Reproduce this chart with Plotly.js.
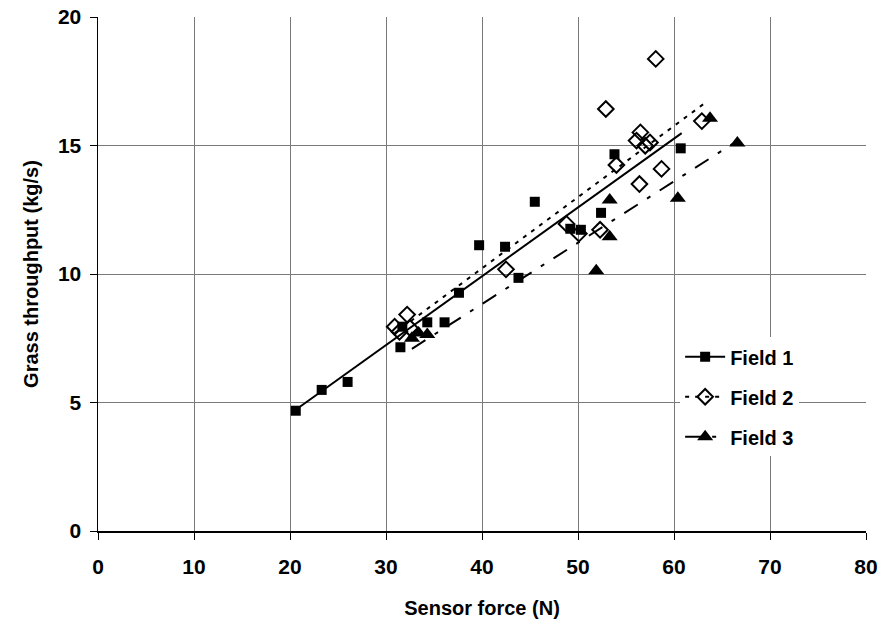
<!DOCTYPE html>
<html>
<head>
<meta charset="utf-8">
<script src="https://cdn.plot.ly/plotly-3.0.1.min.js"></script>
<style>html,body{margin:0;padding:0;background:#fff}#chart{width:881px;height:625px}</style>
</head>
<body>
<div id="chart"></div>
<script>
// Field 1 (filled squares)
const field1X = [20.6, 23.3, 26.0, 31.5, 31.7, 34.3, 36.1, 37.6, 39.7, 42.4, 43.8, 45.5, 49.2, 50.3, 52.4, 53.8, 60.7];
const field1Y = [4.68, 5.49, 5.80, 7.15, 7.95, 8.12, 8.12, 9.27, 11.12, 11.06, 9.85, 12.81, 11.76, 11.72, 12.38, 14.66, 14.89];
// Field 2 (open diamonds)
const field2X = [30.9, 31.4, 32.2, 32.5, 42.5, 48.8, 50.1, 52.3, 52.9, 54.0, 56.1, 56.4, 56.5, 57.0, 57.5, 58.1, 58.7, 62.9];
const field2Y = [7.95, 7.75, 8.42, 7.90, 10.18, 11.95, 11.57, 11.72, 16.42, 14.24, 15.19, 13.50, 15.51, 14.99, 15.12, 18.37, 14.09, 15.95];
// Field 3 (filled triangles)
const field3X = [32.7, 33.4, 34.3, 51.9, 53.3, 53.3, 60.4, 63.75, 66.6];
const field3Y = [7.50, 7.70, 7.65, 10.13, 11.45, 12.88, 12.95, 16.06, 15.10];
// Trend lines (end points)
const trend1X = [20.6, 60.8];
const trend1Y = [4.72, 15.48];
const trend2X = [30.9, 63.1];
const trend2Y = [7.70, 16.62];
const trend3X = [32.7, 66.6];
const trend3Y = [7.09, 15.18];
const seriesNames = ['Field 1', 'Field 2', 'Field 3'];
const xTicks = [0, 10, 20, 30, 40, 50, 60, 70, 80];
const yTicks = [0, 5, 10, 15, 20];

const FONT = "Arial, 'Liberation Sans', sans-serif";
const styles = [
  {line: {color: '#000', width: 2, dash: 'solid'}, marker: {symbol: 'square', size: 10, color: '#000'}},
  {line: {color: '#000', width: 2, dash: '4px,6px'}, marker: {symbol: 'diamond-open', size: 12, color: '#000', line: {width: 2, color: '#000'}}},
  {line: {color: '#000', width: 2, dash: '16px,11px,4px,11px'}, marker: {symbol: 'triangle-up', size: 14, color: '#000'}}
];
const pts = [[field1X, field1Y], [field2X, field2Y], [field3X, field3Y]];
const trends = [[trend1X, trend1Y], [trend2X, trend2Y], [trend3X, trend3Y]];

const traces = [];
for (let i = 0; i < 3; i++) {
  traces.push({x: trends[i][0], y: trends[i][1], mode: 'lines', line: styles[i].line, showlegend: false, hoverinfo: 'skip'});
}
for (let i = 0; i < 3; i++) {
  traces.push({x: pts[i][0], y: pts[i][1], mode: 'markers', marker: styles[i].marker, showlegend: false, name: seriesNames[i]});
}
for (let i = 0; i < 3; i++) {
  traces.push({x: [null], y: [null], mode: 'lines+markers', line: styles[i].line, marker: styles[i].marker,
    name: seriesNames[i], legendgroup: 'g' + i, showlegend: true});
}

const layout = {
  width: 881, height: 625,
  margin: {l: 98, r: 15, t: 17, b: 94},
  paper_bgcolor: '#fff', plot_bgcolor: '#fff',
  font: {family: FONT, color: '#000'},
  showlegend: true,
  legend: {
    x: 0.758, y: 0.377, xanchor: 'left', yanchor: 'top',
    bgcolor: '#fff', borderwidth: 0,
    font: {family: FONT, size: 20, weight: 700, color: '#000'},
    tracegroupgap: 11, traceorder: 'grouped', itemwidth: 40
  },
  xaxis: {
    range: [0, 80], tickvals: xTicks, ticktext: xTicks.map(String),
    showgrid: true, gridcolor: '#7a7a7a', gridwidth: 1,
    zeroline: false, showline: true, linecolor: '#000', linewidth: 1.5,
    ticks: 'outside', ticklen: 7, tickcolor: '#000', tickwidth: 1,
    tickfont: {family: FONT, size: 21, weight: 700, color: '#000'},
    ticklabelstandoff: 9,
    title: {text: 'Sensor force (N)', font: {family: FONT, size: 20, weight: 700, color: '#000'}, standoff: 24},
    fixedrange: true
  },
  yaxis: {
    range: [0, 20], tickvals: yTicks, ticktext: yTicks.map(String),
    showgrid: true, gridcolor: '#7a7a7a', gridwidth: 1,
    zeroline: false, showline: true, linecolor: '#000', linewidth: 1.5,
    ticks: 'outside', ticklen: 7, tickcolor: '#000', tickwidth: 1,
    tickfont: {family: FONT, size: 21, weight: 700, color: '#000'},
    ticklabelstandoff: 4,
    title: {text: 'Grass throughput (kg/s)', font: {family: FONT, size: 20, weight: 700, color: '#000'}, standoff: 14},
    fixedrange: true
  }
};

Plotly.newPlot('chart', traces, layout, {displayModeBar: false, staticPlot: true});
</script>
</body>
</html>
